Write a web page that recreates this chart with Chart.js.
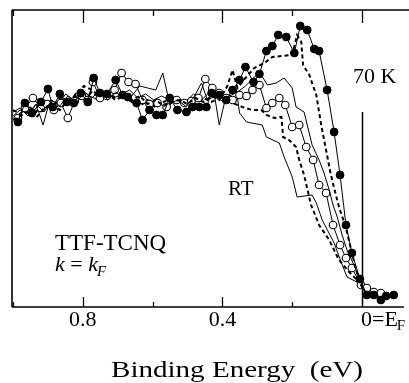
<!DOCTYPE html>
<html>
<head>
<meta charset="utf-8">
<script src="https://cdn.jsdelivr.net/npm/chart.js@4.4.1/dist/chart.umd.min.js"></script>
<style>
html,body{margin:0;padding:0;background:#fff;}
#wrap{width:409px;height:383px;position:relative;}
canvas{display:block;}
</style>
</head>
<body>
<div id="wrap"><canvas id="c" width="409" height="383"></canvas></div>
<script>
// Binding energy (eV) and intensity (arb. units) for each temperature curve
const energy70K = [0.986,0.966,0.946,0.920,0.900,0.886,0.866,0.846,0.826,0.806,0.786,0.769,0.751,0.731,0.706,0.686,0.671,0.646,0.629,0.609,0.589,0.571,0.551,0.529,0.503,0.486,0.466,0.446,0.431,0.409,0.389,0.371,0.351,0.334,0.311,0.294,0.274,0.257,0.240,0.217,0.194,0.177,0.157,0.137,0.123,0.100,0.080,0.063,0.046,0.029,0.006,-0.014,-0.034,-0.054,-0.069,-0.091];
const int70K    = [185,204,194,205,218,200,213,205,204,214,205,229,214,213,227,212,210,204,187,197,192,192,209,197,195,200,200,200,214,212,207,217,227,240,225,233,256,261,272,270,254,281,277,258,256,217,175,132,82,54,28,12,12,7,11,12];

const energyT2 = [1.0,0.980,0.957,0.934,0.911,0.889,0.866,0.843,0.820,0.797,0.774,0.751,0.729,0.706,0.683,0.660,0.637,0.614,0.591,0.569,0.546,0.523,0.500,0.477,0.454,0.431,0.409,0.386,0.371,0.357,0.334,0.309,0.280,0.257,0.229,0.200,0.186,0.174,0.169,0.151,0.131,0.117,0.103,0.091,0.080,0.066,0.046,0.031,0.017,0.003,-0.009];
const intT2    = [187,191,195,189,199,203,197,207,211,221,217,211,215,209,213,207,211,203,207,201,205,207,203,209,205,211,207,221,237,219,229,239,244,250,251,252,272,265,242,232,212,182,157,135,119,100,79,57,37,22,15];

const energyT3 = [1.0,0.980,0.957,0.934,0.911,0.889,0.866,0.843,0.820,0.797,0.774,0.751,0.729,0.706,0.683,0.660,0.637,0.614,0.591,0.571,0.551,0.529,0.506,0.483,0.460,0.443,0.420,0.397,0.380,0.357,0.334,0.311,0.294,0.271,0.246,0.223,0.200,0.189,0.166,0.157,0.143,0.123,0.109,0.094,0.083,0.071,0.057,0.043,0.023,0.009,-0.003];
const intT3    = [195,199,191,203,195,207,201,211,203,215,209,217,207,215,209,211,221,219,217,234,203,207,201,209,224,207,211,205,211,215,221,229,235,222,224,229,219,200,195,182,162,147,134,117,102,90,72,57,42,30,20];

const energyT4 = [0.986,0.966,0.943,0.920,0.903,0.883,0.863,0.843,0.823,0.803,0.786,0.771,0.751,0.731,0.709,0.689,0.669,0.649,0.629,0.609,0.586,0.560,0.531,0.509,0.489,0.469,0.449,0.429,0.409,0.389,0.371,0.351,0.331,0.314,0.294,0.274,0.257,0.237,0.220,0.200,0.180,0.160,0.140,0.123,0.103,0.083,0.063,0.046,0.029,0.003,-0.014,-0.034,-0.054];
const intT4    = [189,199,209,199,203,197,204,189,206,211,207,225,209,211,217,234,225,223,207,203,204,200,207,204,206,209,228,219,214,209,207,212,211,217,222,199,204,209,202,180,182,160,147,122,114,82,62,49,39,22,19,15,14];

const energyT5 = [1.0,0.980,0.957,0.934,0.911,0.889,0.866,0.843,0.820,0.797,0.774,0.751,0.729,0.706,0.683,0.660,0.637,0.614,0.591,0.569,0.546,0.523,0.500,0.477,0.454,0.431,0.409,0.386,0.371,0.343,0.314,0.289,0.274,0.251,0.231,0.226,0.209,0.189,0.180,0.166,0.146,0.123,0.094,0.066,0.037,0.014,0.0];
const intT5    = [197,193,201,195,205,199,209,203,213,207,215,209,213,207,211,205,201,207,199,205,209,203,207,203,209,205,209,211,204,200,197,197,192,189,190,170,167,160,147,132,102,82,67,47,35,27,21];

const energyRT = [1.0,0.980,0.957,0.934,0.914,0.894,0.871,0.849,0.826,0.803,0.780,0.757,0.734,0.711,0.689,0.666,0.643,0.620,0.597,0.574,0.551,0.529,0.506,0.483,0.460,0.437,0.423,0.409,0.391,0.374,0.360,0.351,0.331,0.286,0.274,0.237,0.223,0.200,0.186,0.143,0.131,0.114,0.080,0.060,0.043,0.009,-0.009];
const intRT    = [191,197,193,203,182,207,203,213,207,217,211,207,215,209,213,217,209,213,207,211,207,209,205,213,207,215,212,182,209,215,217,194,185,182,170,164,150,130,110,112,104,87,64,45,30,24,19];

// tick values and labels
const majorTicks = [0.8, 0.4, 0];
const minorTicks = [1.0, 0.6, 0.2];
const tickLabels = ['0.8', '0.4', '0=E'];
const xTitle = 'Binding Energy  (eV)';

function pts(xs, ys){ return xs.map((x,i)=>({x:x, y:ys[i]})); }

const SERIF = '"Liberation Serif", "Times New Roman", serif';

const decor = {
  id: 'decor',
  afterDraw(chart){
    const ctx = chart.ctx;
    const xs = chart.scales.x, ys = chart.scales.y;
    const a = chart.chartArea;
    ctx.save();
    ctx.strokeStyle = '#000';
    ctx.fillStyle = '#000';
    // frame: left, top, bottom
    ctx.lineWidth = 1.6;
    ctx.beginPath();
    ctx.moveTo(a.left, a.bottom); ctx.lineTo(a.left, a.top);
    ctx.moveTo(a.left, a.top); ctx.lineTo(chart.width, a.top);
    ctx.moveTo(a.left, a.bottom); ctx.lineTo(a.right, a.bottom);
    ctx.stroke();
    // inward ticks
    ctx.lineWidth = 1.3;
    ctx.beginPath();
    majorTicks.forEach(v=>{
      const px = Math.round(xs.getPixelForValue(v))+0.5;
      ctx.moveTo(px, a.top); ctx.lineTo(px, a.top+13);
      if (v !== 0){ ctx.moveTo(px, a.bottom); ctx.lineTo(px, a.bottom-10); }
    });
    minorTicks.forEach(v=>{
      const px = Math.round(xs.getPixelForValue(v))+0.5;
      ctx.moveTo(px, a.top); ctx.lineTo(px, a.top+6);
      ctx.moveTo(px, a.bottom); ctx.lineTo(px, a.bottom-5);
    });
    ctx.stroke();
    // Fermi level line
    ctx.lineWidth = 1.5;
    const xf = Math.round(xs.getPixelForValue(0))+0.5;
    ctx.beginPath();
    ctx.moveTo(xf, ys.getPixelForValue(195)); ctx.lineTo(xf, a.bottom);
    ctx.stroke();
    // tick labels
    ctx.font = '22px ' + SERIF;
    ctx.textBaseline = 'alphabetic';
    majorTicks.forEach((v,i)=>{
      const px = xs.getPixelForValue(v);
      if (v === 0){
        ctx.textAlign = 'left';
        ctx.font = '22px ' + SERIF;
        ctx.fillText(tickLabels[i], px - 1, 326);
        const w = ctx.measureText(tickLabels[i]).width;
        ctx.font = '15px ' + SERIF;
        ctx.fillText('F', px - 2 + w, 330);
      } else {
        ctx.textAlign = 'center';
        ctx.fillText(tickLabels[i], px, 326);
      }
    });
    // axis title, fitted to width
    ctx.font = '24px ' + SERIF;
    ctx.textAlign = 'left';
    const tw = ctx.measureText(xTitle).width;
    const target = 252;
    ctx.save();
    ctx.translate(111, 377);
    ctx.scale(target / tw, 1);
    ctx.fillText(xTitle, 0, 0);
    ctx.restore();
    // annotations
    ctx.font = '22px ' + SERIF;
    ctx.textAlign = 'left';
    ctx.fillText('70 K', 353, 83);
    ctx.font = '21px ' + SERIF;
    ctx.fillText('RT', 228, 195);
    ctx.font = '23px ' + SERIF;
    ctx.fillText('TTF-TCNQ', 55, 250);
    // k = k_F
    let x0 = 55;
    ctx.font = 'italic 22px ' + SERIF;
    ctx.fillText('k', x0, 271); x0 += ctx.measureText('k').width;
    ctx.font = '22px ' + SERIF;
    ctx.fillText(' = ', x0, 271); x0 += ctx.measureText(' = ').width;
    ctx.font = 'italic 22px ' + SERIF;
    ctx.fillText('k', x0, 271); x0 += ctx.measureText('k').width;
    ctx.font = 'italic 15px ' + SERIF;
    ctx.fillText('F', x0 - 1, 276);
    ctx.restore();
  }
};

new Chart(document.getElementById('c'), {
  type: 'line',
  data: {
    datasets: [
      { label: '70 K', data: pts(energy70K, int70K), borderColor: '#000', borderWidth: 1, pointRadius: 3.9, pointBackgroundColor: '#000', pointBorderColor: '#000', pointBorderWidth: 1 },
      { label: 'T2', data: pts(energyT2, intT2), borderColor: '#000', borderWidth: 2, borderDash: [4,3], pointRadius: 0 },
      { label: 'T3', data: pts(energyT3, intT3), borderColor: '#000', borderWidth: 1, pointRadius: 0 },
      { label: 'T4', data: pts(energyT4, intT4), borderColor: '#000', borderWidth: 1, pointRadius: 3.8, pointBackgroundColor: '#fff', pointBorderColor: '#000', pointBorderWidth: 1.1 },
      { label: 'T5', data: pts(energyT5, intT5), borderColor: '#000', borderWidth: 2, borderDash: [4,3], pointRadius: 0 },
      { label: 'RT', data: pts(energyRT, intRT), borderColor: '#000', borderWidth: 1, pointRadius: 0 }
    ]
  },
  options: {
    responsive: false,
    animation: false,
    devicePixelRatio: 1,
    layout: { padding: { left: 12, top: 10, right: 4, bottom: 76 } },
    scales: {
      x: { type: 'linear', reverse: true, min: -0.12, max: 1.003, display: false },
      y: { type: 'linear', min: 0, max: 297, display: false }
    },
    plugins: { legend: { display: false }, tooltip: { enabled: false } },
    elements: { line: { tension: 0 } }
  },
  plugins: [decor]
});
</script>
</body>
</html>
